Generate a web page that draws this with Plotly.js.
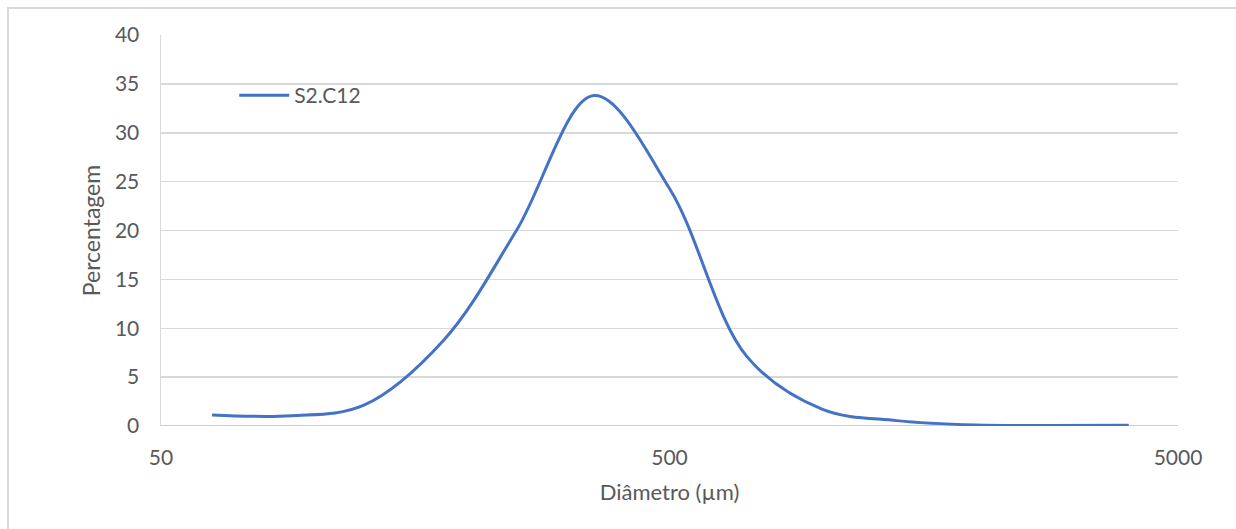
<!DOCTYPE html>
<html>
<head>
<meta charset="utf-8">
<script src="https://cdn.plot.ly/plotly-3.0.1.min.js"></script>
<style>
  html, body { margin: 0; padding: 0; background: #ffffff; }
  #wrap { position: relative; width: 1236px; height: 529px; overflow: hidden; }
  #frame { position: absolute; left: 7px; top: 7px; width: 1300px; height: 600px;
           border-top: 2px solid #D9D9D9; border-left: 2px solid #D9D9D9; box-sizing: border-box; pointer-events: none; }
  #chart { position: absolute; left: 0; top: 0; width: 1236px; height: 529px; }
</style>
</head>
<body>
<div id="wrap">
  <div id="chart"></div>
  <div id="frame"></div>
</div>
<script>
// Diameter (µm) and percentage values
const diameters = [63, 90, 125, 180, 250, 355, 500, 710, 1000, 1400, 2000, 2800, 4000];
const percentages = [1.13, 1.05, 2.1, 8.8, 20.0, 33.8, 24.3, 7.1, 1.7, 0.55, 0.1, 0.05, 0.07];
const seriesName = "S2.C12";
const xTicks = [50, 500, 5000];
const yTicks = [0, 5, 10, 15, 20, 25, 30, 35, 40];

const FONT = "Lato, 'Open Sans', sans-serif";
const TXT = "#595959";

const trace = {
  x: diameters,
  y: percentages,
  type: "scatter",
  mode: "lines",
  name: seriesName,
  line: { color: "#4472C4", width: 3, shape: "spline", smoothing: 1 }
};

const layout = {
  width: 1236,
  height: 529,
  margin: { l: 161, r: 58, t: 35, b: 103 },
  paper_bgcolor: "rgba(0,0,0,0)",
  plot_bgcolor: "#ffffff",
  font: { family: FONT, size: 21, color: TXT },
  showlegend: true,
  legend: {
    x: 0.072, y: 0.845, xanchor: "left", yanchor: "middle",
    bgcolor: "rgba(0,0,0,0)", borderwidth: 0,
    font: { family: FONT, size: 21, color: TXT },
    itemwidth: 50
  },
  xaxis: {
    type: "log",
    range: [Math.log10(50), Math.log10(5000)],
    tickvals: xTicks,
    ticktext: xTicks.map(String),
    showgrid: false,
    zeroline: false,
    showline: false,
    ticks: "outside", ticklen: 13, tickcolor: "rgba(0,0,0,0)",
    tickfont: { family: FONT, size: 21, color: TXT },
    title: { text: "Diâmetro (µm)", font: { family: FONT, size: 22, color: TXT }, standoff: 16 }
  },
  yaxis: {
    range: [0, 40],
    tickvals: yTicks,
    showgrid: true,
    gridcolor: "#D9D9D9",
    gridwidth: 1.5,
    zeroline: false,
    showline: true,
    linecolor: "#D9D9D9",
    linewidth: 1.5,
    ticks: "outside", ticklen: 16, tickcolor: "rgba(0,0,0,0)",
    tickfont: { family: FONT, size: 21, color: TXT },
    title: { text: "Percentagem", font: { family: FONT, size: 23, color: TXT }, standoff: 8 }
  },
  shapes: [
    { type: "line", xref: "paper", yref: "y", x0: 0, x1: 1, y0: 0, y1: 0,
      line: { color: "#BFBFBF", width: 1.5 }, layer: "below" }
  ]
};

Plotly.newPlot("chart", [trace], layout, { staticPlot: true, displayModeBar: false });
</script>
</body>
</html>
